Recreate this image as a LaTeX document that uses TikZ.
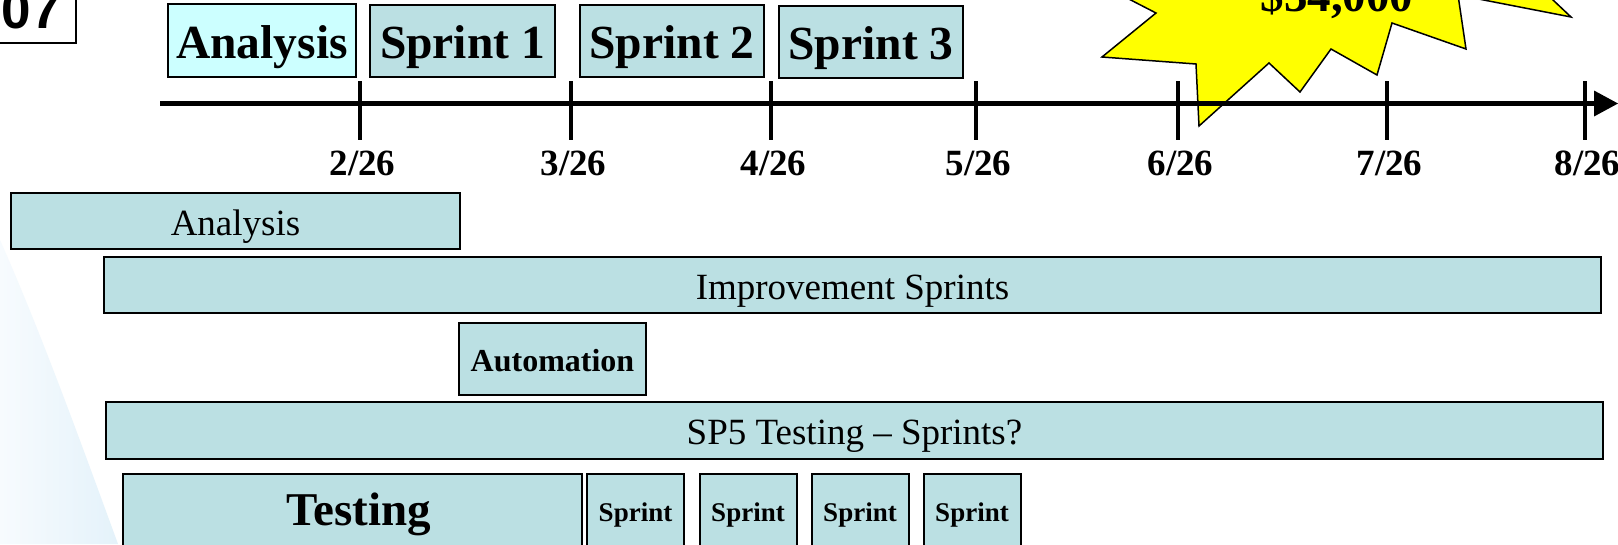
\documentclass[tikz,border=0pt]{standalone}
\usepackage{fontspec}
\setmainfont{Liberation Serif}
\newfontfamily\arialf{Liberation Sans}
\definecolor{boxteal}{RGB}{187,224,227}
\definecolor{boxcyan}{RGB}{204,255,255}
\definecolor{swooshA}{RGB}{247,251,254}
\definecolor{swooshB}{RGB}{228,242,250}
\definecolor{staryellow}{RGB}{255,255,0}
\newcommand{\fsz}[1]{\fontsize{#1}{#1}\selectfont}
\begin{document}
\begin{tikzpicture}[x=1pt,y=-1pt,
  bar/.style={draw=black, line width=2pt, fill=boxteal, inner sep=0pt, text=black, align=center},
  topbox/.style={bar, font=\fsz{47.5}\bfseries, text height=42pt, text depth=7pt},
  lowtext/.style={font=\fsz{37}, text height=34pt, text depth=6pt},
  datelbl/.style={anchor=base, font=\fsz{37}\bfseries, inner sep=0pt},
  tickline/.style={line width=4pt},
  sprintbox/.style={bar, minimum width=97pt, minimum height=74pt, font=\fsz{27}\bfseries, text height=26pt, text depth=6pt}]
\useasboundingbox (0,0) rectangle (1618,544);
\clip (0,0) rectangle (1618,544);
\fill[white] (0,0) rectangle (1618,544);
% background swoosh
\shade[left color=swooshA, right color=swooshB]
  (0,240) .. controls (40,330) and (80,440) .. (118,544) -- (0,544) -- cycle;

% slide number box
\draw[line width=2.5pt] (-10,-10) rectangle (76,43);
\node[anchor=base east, inner sep=0pt, font=\arialf\bfseries\fsz{53}] (num) at (61,28) {07};

% starburst
\draw[line width=1.5pt, fill=staryellow, line join=miter]
  (1092,-20) -- (1156,13) -- (1102,57) -- (1196,64) -- (1199,126) -- (1269,63)
  -- (1300,92) -- (1331,49) -- (1377,75) -- (1392,23) -- (1466,49) -- (1458,-5)
  -- (1571,17) -- (1553,0) -- (1530,-30) -- (1092,-30) -- cycle;
\node[anchor=base, inner sep=0pt, font=\fsz{47}\bfseries] (cost) at (1337,11) {\$34,000};

% top phase boxes
\node[topbox, fill=boxcyan, minimum width=188pt, minimum height=73pt] (topA) at (262,40.5) {Analysis};
\node[topbox, minimum width=185pt, minimum height=72pt] (topS1) at (462.5,40.5) {Sprint 1};
\node[topbox, minimum width=184pt, minimum height=72pt] (topS2) at (672,40.5) {Sprint 2};
\node[topbox, minimum width=184pt, minimum height=72pt] (topS3) at (871,42) {Sprint 3};

% timeline axis
\coordinate (axstart) at (160,103.5);
\coordinate (axend) at (1596,103.5);
\draw[line width=4.5pt] (axstart) -- (axend);
\fill (1618,103.5) -- (1594,90.5) -- (1594,116.5) -- cycle;

% ticks and dates
\foreach \x/\lab/\nm in {360/2\slash26/d1, 571/3\slash26/d2, 771/4\slash26/d3, 976/5\slash26/d4, 1178/6\slash26/d5, 1387/7\slash26/d6, 1585/8\slash26/d7}{
  \draw[tickline] (\x,81) -- (\x,140);
  \node[datelbl] (\nm) at (\x+2.5,175) {\lab};
}

% lower bars
\node[bar, lowtext, minimum width=449pt, minimum height=56pt] (lowA) at (235.5,221) {Analysis};
\node[bar, lowtext, minimum width=1497pt, minimum height=56pt] (imp) at (852.5,285) {Improvement Sprints};
\node[bar, font=\fsz{32}\bfseries, text height=30pt, text depth=6pt, minimum width=187pt, minimum height=72pt] (auto) at (552.5,359) {Automation};
\node[bar, lowtext, minimum width=1497pt, minimum height=57pt] (sp5) at (854.5,430.5) {SP5 Testing – Sprints?};
\node[bar, font=\fsz{47}\bfseries, text height=34pt, text depth=6pt, minimum width=459pt, minimum height=74pt] (test) at (352.5,511) {\hspace*{13pt}Testing};
\node[sprintbox] (sp1) at (635.5,511) {Sprint};
\node[sprintbox] (sp2) at (748,511) {Sprint};
\node[sprintbox] (sp3) at (860,511) {Sprint};
\node[sprintbox] (sp4) at (972,511) {Sprint};
\end{tikzpicture}
\end{document}
